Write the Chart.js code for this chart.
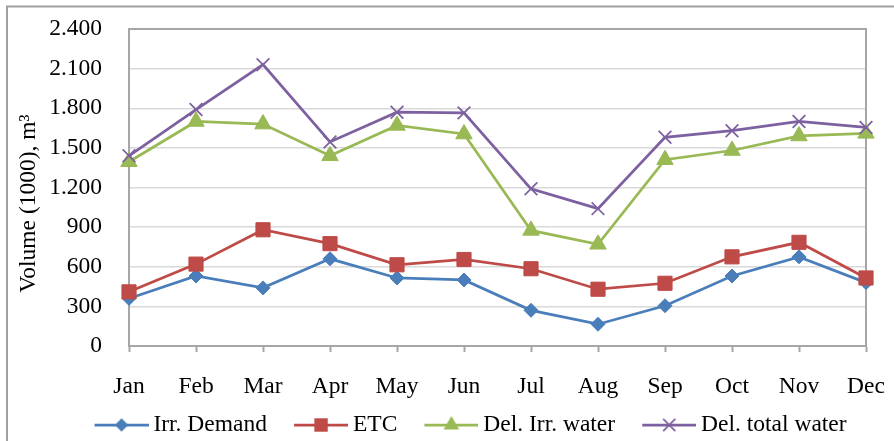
<!DOCTYPE html>
<html>
<head>
<meta charset="utf-8">
<script src="https://cdn.jsdelivr.net/npm/chart.js@4/dist/chart.umd.min.js"></script>
<style>
  html, body { margin: 0; padding: 0; background: #ffffff; overflow: hidden; }
  #wrap { position: relative; width: 894px; height: 441px; }
  canvas { display: block; }
</style>
</head>
<body>
<div id="wrap"><canvas id="chart" width="894" height="441"></canvas></div>
<script>
// Monthly volumes, thousand m³
const months = ['Jan', 'Feb', 'Mar', 'Apr', 'May', 'Jun', 'Jul', 'Aug', 'Sep', 'Oct', 'Nov', 'Dec'];
const irrDemand = [360, 530, 440, 660, 515, 500, 270, 165, 305, 530, 675, 480];
const etc = [410, 620, 880, 775, 615, 655, 585, 430, 475, 675, 785, 515];
const delIrrWater = [1395, 1700, 1680, 1440, 1670, 1605, 875, 770, 1410, 1480, 1590, 1610];
const delTotalWater = [1440, 1790, 2130, 1545, 1770, 1765, 1190, 1040, 1580, 1630, 1700, 1655];
const seriesNames = ['Irr. Demand', 'ETC', 'Del. Irr. water', 'Del. total water'];
const yTicks = [0, 300, 600, 900, 1200, 1500, 1800, 2100, 2400];
const yTitle = 'Volume (1000), m³';

const FONT = '"Liberation Serif", "Times New Roman", serif';
const FS = 23.5;
const FRAME = '#a6a6a6';

const styles = [
  { color: '#4a7ebb', point: 'rectRot', radius: 7 },
  { color: '#be4b48', point: 'rect', radius: 10 },
  { color: '#98b954', point: 'triangle', radius: 9.5 },
  { color: '#7d60a0', point: 'crossRot', radius: 9 }
];

// thousands separator with a dot: 2400 -> "2.400"
function fmt(v) {
  return String(v).replace(/\B(?=(\d{3})+(?!\d))/g, '.');
}

function markerPath(ctx, type, x, y, r) {
  ctx.beginPath();
  if (type === 'rectRot') {
    ctx.moveTo(x, y - r); ctx.lineTo(x + r, y); ctx.lineTo(x, y + r); ctx.lineTo(x - r, y); ctx.closePath();
  } else if (type === 'rect') {
    const s = r * Math.SQRT1_2;
    ctx.rect(x - s, y - s, 2 * s, 2 * s);
  } else if (type === 'triangle') {
    const h = r;
    ctx.moveTo(x, y - h);
    ctx.lineTo(x + h * Math.sin(Math.PI * 2 / 3), y - h * Math.cos(Math.PI * 2 / 3));
    ctx.lineTo(x + h * Math.sin(Math.PI * 4 / 3), y - h * Math.cos(Math.PI * 4 / 3));
    ctx.closePath();
  } else if (type === 'crossRot') {
    const d = r * Math.SQRT1_2;
    ctx.moveTo(x - d, y - d); ctx.lineTo(x + d, y + d);
    ctx.moveTo(x + d, y - d); ctx.lineTo(x - d, y + d);
  }
}

// Legend swatch: a short line with the series marker in its middle.
const LINE_LEN = 54, TEXT_GAP = 5, LEAD = 14, LEG_PAD = 13;
const BOX_W = LEAD + LINE_LEN + TEXT_GAP - FS / 2;
const LEGEND_CENTER = 470.5;
function makeSwatch(st) {
  const half = LEAD + LINE_LEN - BOX_W / 2;
  const w = Math.ceil(half * 2), h = 24;
  const c = document.createElement('canvas');
  c.width = w; c.height = h;
  const g = c.getContext('2d');
  const x0 = w - LINE_LEN, cy = h / 2;
  g.strokeStyle = st.color; g.lineWidth = 2.75;
  g.beginPath(); g.moveTo(x0, cy); g.lineTo(w, cy); g.stroke();
  const mx = x0 + LINE_LEN / 2;
  markerPath(g, st.point, mx, cy, st.radius * 0.95);
  if (st.point === 'crossRot') { g.lineWidth = 1.75; g.stroke(); }
  else { g.fillStyle = st.color; g.fill(); }
  return c;
}
const swatches = styles.map(makeSwatch);

const seriesValues = [irrDemand, etc, delIrrWater, delTotalWater];
const datasets = seriesValues.map((vals, i) => ({
  label: seriesNames[i],
  data: vals,
  borderColor: styles[i].color,
  backgroundColor: styles[i].color,
  borderWidth: 2.75,
  pointStyle: styles[i].point,
  pointRadius: styles[i].radius,
  pointHoverRadius: styles[i].radius,
  pointBorderWidth: styles[i].point === 'crossRot' ? 1.75 : 1,
  pointBackgroundColor: styles[i].color,
  pointBorderColor: styles[i].color,
  tension: 0,
  order: 3 - i
}));

const framePlugin = {
  id: 'frame',
  afterLayout(chart) {
    // centre the legend row under the plot as a whole
    const lg = chart.legend;
    if (!lg) return;
    const dx = LEGEND_CENTER - LEAD / 2 - (lg.left + lg.right) / 2;
    lg.left += dx;
    lg.right += dx;
  },
  beforeDraw(chart) {
    const ctx = chart.ctx;
    ctx.save();
    ctx.fillStyle = '#ffffff';
    ctx.fillRect(0, 0, chart.width, chart.height);
    // outer chart border (top and left edges)
    ctx.strokeStyle = '#a0a0a0';
    ctx.lineWidth = 2;
    ctx.beginPath();
    ctx.moveTo(7, chart.height); ctx.lineTo(7, 6.5); ctx.lineTo(chart.width, 6.5);
    ctx.stroke();
    ctx.restore();
  },
  beforeDatasetsDraw(chart) {
    const a = chart.chartArea, ctx = chart.ctx;
    ctx.save();
    ctx.strokeStyle = FRAME;
    ctx.lineWidth = 2;
    ctx.strokeRect(a.left, a.top, a.right - a.left, a.bottom - a.top);
    ctx.restore();
  },
  afterDraw(chart) {
    const ctx = chart.ctx;
    ctx.save();
    ctx.fillStyle = '#000000';
    ctx.font = FS + 'px ' + FONT;
    ctx.translate(35, 203.5);
    ctx.rotate(-Math.PI / 2);
    ctx.textAlign = 'center';
    ctx.textBaseline = 'alphabetic';
    ctx.fillText(yTitle, 0, 0);
    ctx.restore();
  }
};

new Chart(document.getElementById('chart'), {
  type: 'line',
  data: { labels: months, datasets },
  options: {
    responsive: false,
    animation: false,
    devicePixelRatio: 1,
    layout: { padding: { left: 0, right: 28, top: 29, bottom: -5.75 } },
    plugins: {
      tooltip: { enabled: false },
      legend: {
        position: 'bottom',
        labels: {
          usePointStyle: true,
          pointStyleWidth: BOX_W,
          padding: LEG_PAD,
          color: '#000000',
          font: { family: FONT, size: FS },
          generateLabels(chart) {
            return chart.data.datasets.map((ds, i) => ({
              text: ds.label,
              pointStyle: swatches[i],
              fillStyle: ds.borderColor,
              strokeStyle: ds.borderColor,
              lineWidth: 0,
              hidden: false,
              datasetIndex: i,
              fontColor: '#000000'
            }));
          }
        }
      }
    },
    scales: {
      x: {
        offset: false,
        afterFit(scale) { scale.height = 54.25; },
        grid: {
          drawOnChartArea: false,
          drawTicks: true,
          tickLength: 6,
          tickColor: FRAME,
          tickWidth: 2
        },
        border: { color: FRAME, width: 2 },
        ticks: {
          color: '#000000',
          padding: 0,
          maxRotation: 0,
          autoSkip: false,
          font: { family: FONT, size: FS, lineHeight: 3.0 }
        }
      },
      y: {
        min: 0,
        max: 2400,
        afterFit(scale) { scale.width = 129; },
        afterBuildTicks(scale) { scale.ticks = yTicks.map(v => ({ value: v })); },
        grid: {
          color: '#d9d9d9',
          lineWidth: 1.5,
          drawTicks: true,
          tickLength: 27,
          tickColor: 'rgba(0,0,0,0)'
        },
        border: { color: FRAME, width: 2 },
        ticks: {
          color: '#000000',
          padding: 0,
          font: { family: FONT, size: FS },
          callback: (v) => fmt(v)
        }
      }
    }
  },
  plugins: [framePlugin]
});
</script>
</body>
</html>
